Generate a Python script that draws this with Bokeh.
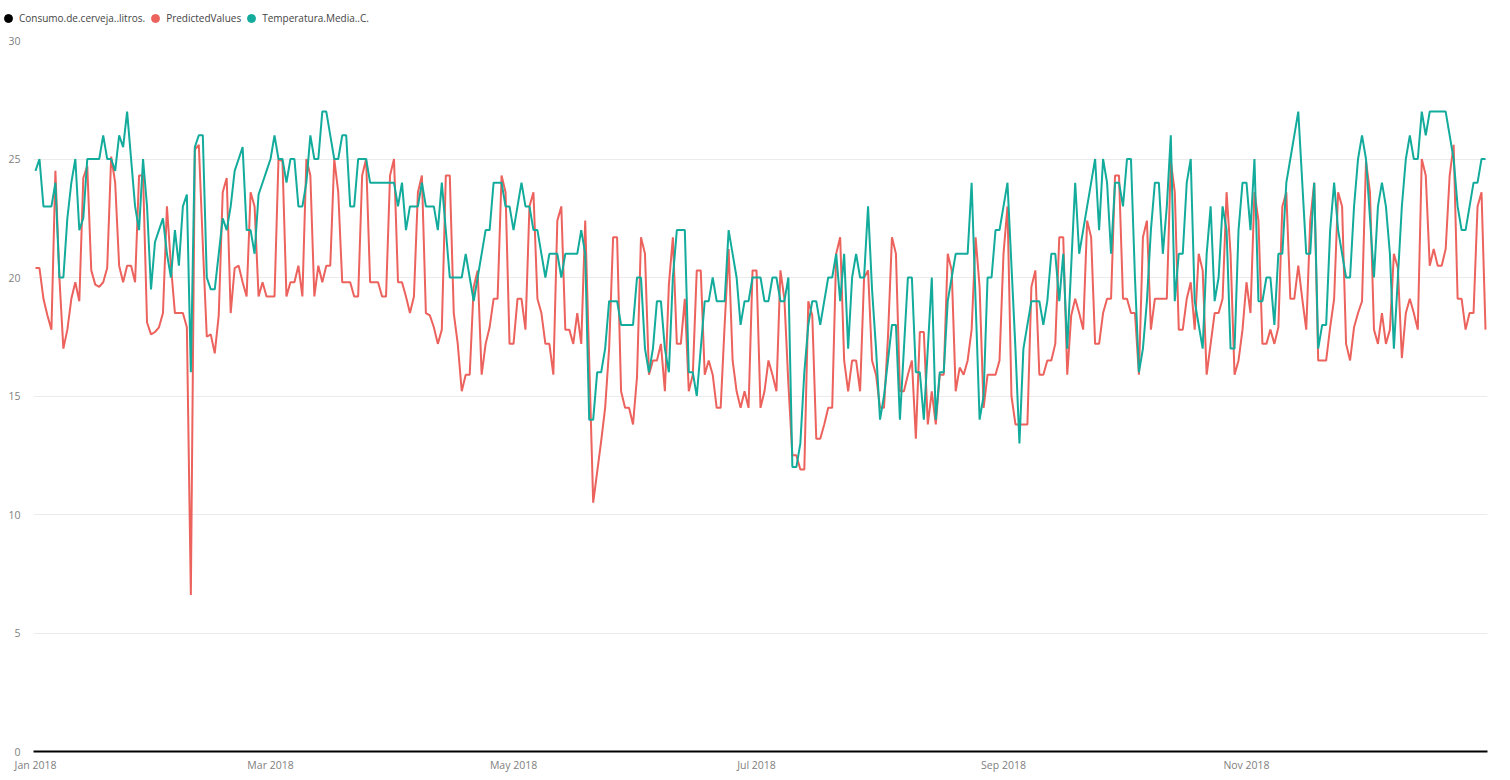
import pandas as pd
from bokeh.plotting import figure
from bokeh.models import (ColumnDataSource, Range1d, FixedTicker, DatetimeTickFormatter,
                          Legend, LegendItem)
from bokeh.embed import file_html
from bokeh.resources import INLINE

# ---------------- data ----------------
start_date = "2018-01-01"
series_names = ["Consumo.de.cerveja..litros.", "PredictedValues", "Temperatura.Media..C."]
series_colors = ["#000000", "#EC625D", "#13AB9C"]

consumo = []  # series present in legend, no visible values in range

predicted = [
    20.4, 20.4, 19.1, 18.4, 17.8, 24.5, 20.0, 17.0, 17.8, 19.1,
    19.8, 19.0, 24.2, 24.7, 20.3, 19.7, 19.6, 19.8, 20.4, 25.1,
    24.0, 20.5, 19.8, 20.5, 20.5, 19.8, 24.3, 24.3, 18.1, 17.6,
    17.7, 17.9, 18.5, 23.0, 20.5, 18.5, 18.5, 18.5, 17.9, 6.6,
    25.4, 25.6, 21.4, 17.5, 17.6, 16.8, 18.4, 23.6, 24.2, 18.5,
    20.4, 20.5, 19.8, 19.2, 23.6, 23.0, 19.2, 19.8, 19.2, 19.2,
    19.2, 25.0, 24.9, 19.2, 19.8, 19.8, 20.5, 19.2, 25.0, 24.3,
    19.2, 20.5, 19.8, 20.5, 20.5, 25.0, 23.6, 19.8, 19.8, 19.8,
    19.2, 19.2, 24.3, 25.0, 19.8, 19.8, 19.8, 19.2, 19.2, 24.3,
    25.0, 19.8, 19.8, 19.2, 18.5, 19.2, 23.6, 24.3, 18.5, 18.4,
    17.9, 17.2, 17.8, 24.3, 24.3, 18.5, 17.2, 15.2, 15.9, 15.9,
    19.6, 20.3, 15.9, 17.2, 17.9, 19.1, 19.1, 24.3, 23.6, 17.2,
    17.2, 19.1, 19.1, 17.8, 23.0, 23.6, 19.1, 18.5, 17.2, 17.2,
    15.9, 22.4, 23.0, 17.8, 17.8, 17.2, 18.5, 17.2, 22.4, 16.5,
    10.5, 11.8, 13.1, 14.5, 17.0, 21.7, 21.7, 15.2, 14.5, 14.5,
    13.8, 15.8, 21.7, 21.0, 15.9, 16.5, 16.5, 17.2, 15.2, 19.7,
    21.7, 17.2, 17.2, 19.1, 15.2, 15.9, 20.3, 20.3, 15.9, 16.5,
    15.9, 14.5, 14.5, 18.0, 21.2, 16.5, 15.2, 14.5, 15.2, 14.5,
    20.3, 20.3, 14.5, 15.2, 16.5, 15.9, 15.2, 20.3, 19.1, 15.5,
    12.5, 12.5, 11.9, 11.9, 19.0, 18.4, 13.2, 13.2, 13.8, 14.5,
    14.5, 21.0, 21.7, 16.5, 15.2, 16.5, 16.5, 15.2, 20.0, 20.3,
    16.5, 15.9, 14.5, 14.5, 17.5, 21.7, 21.0, 15.2, 15.2, 15.9,
    16.5, 13.2, 17.7, 17.7, 13.8, 15.2, 13.8, 15.9, 15.9, 21.0,
    20.3, 15.2, 16.2, 15.9, 16.5, 17.8, 21.7, 19.6, 14.5, 15.9,
    15.9, 15.9, 16.5, 21.0, 23.0, 15.0, 13.8, 13.8, 13.8, 13.8,
    19.6, 20.3, 15.9, 15.9, 16.5, 16.5, 17.2, 21.7, 21.7, 15.9,
    18.4, 19.1, 18.5, 17.8, 22.4, 21.7, 17.2, 17.2, 18.5, 19.1,
    19.1, 24.3, 24.3, 19.1, 19.1, 18.5, 18.5, 15.9, 21.7, 22.4,
    17.8, 19.1, 19.1, 19.1, 19.1, 24.9, 23.6, 17.8, 17.8, 19.1,
    19.8, 17.8, 21.0, 20.3, 15.9, 17.2, 18.5, 18.5, 19.1, 23.6,
    21.0, 15.9, 16.5, 17.8, 19.8, 18.5, 23.6, 22.4, 17.2, 17.2,
    17.8, 17.2, 17.9, 23.0, 23.6, 19.1, 19.1, 20.5, 19.1, 17.8,
    22.4, 24.0, 16.5, 16.5, 16.5, 17.9, 19.1, 23.6, 23.0, 17.2,
    16.5, 17.9, 18.5, 19.0, 24.9, 23.6, 17.8, 17.2, 18.5, 17.2,
    17.8, 21.0, 20.4, 16.6, 18.5, 19.1, 18.5, 17.8, 25.0, 24.3,
    20.5, 21.2, 20.5, 20.5, 21.2, 24.3, 25.6, 19.1, 19.1, 17.8,
    18.5, 18.5, 23.0, 23.6, 17.8,
]

temperatura = [
    24.5, 25, 23, 23, 23, 24, 20, 20, 22.5, 24,
    25, 22, 22.5, 25, 25, 25, 25, 26, 25, 25,
    24.5, 26, 25.5, 27, 25, 23, 22, 25, 23, 19.5,
    21.5, 22, 22.5, 21, 20, 22, 20.5, 23, 23.5, 16,
    25.5, 26, 26, 20, 19.5, 19.5, 21, 22.5, 22, 23,
    24.5, 25, 25.5, 22, 22, 21, 23.5, 24, 24.5, 25,
    26, 25, 25, 24, 25, 25, 23, 23, 24, 26,
    25, 25, 27, 27, 26, 25, 25, 26, 26, 23,
    23, 25, 25, 25, 24, 24, 24, 24, 24, 24,
    24, 23, 24, 22, 23, 23, 23, 24, 23, 23,
    23, 22, 24, 22, 20, 20, 20, 20, 21, 20,
    19, 20, 21, 22, 22, 24, 24, 24, 23, 23,
    22, 23, 24, 23, 23, 22, 22, 21, 20, 21,
    21, 21, 20, 21, 21, 21, 21, 22, 21, 14,
    14, 16, 16, 17, 19, 19, 19, 18, 18, 18,
    18, 20, 20, 17, 16, 17, 19, 19, 17, 16,
    20, 22, 22, 22, 16, 16, 15, 17, 19, 19,
    20, 19, 19, 19, 22, 21, 20, 18, 19, 19,
    20, 20, 20, 19, 19, 20, 20, 19, 19, 20,
    12, 12, 13, 16, 18, 19, 19, 18, 19, 20,
    20, 21, 19, 21, 17, 20, 21, 20, 20, 23,
    19.5, 17, 14, 15, 16.5, 18, 18, 14, 17, 20,
    20, 16, 16, 14, 17, 20, 14, 16, 16, 19,
    20, 21, 21, 21, 21, 24, 19, 14, 15, 20,
    20, 22, 22, 23, 24, 20.5, 17, 13, 17, 18,
    19, 19, 19, 18, 19, 21, 21, 19, 21, 17,
    20.5, 24, 21, 22, 23, 24, 25, 22, 25, 24,
    21, 24, 24, 23, 25, 25, 20, 16, 17, 19,
    22, 24, 24, 21, 23, 26, 19, 21, 21, 24,
    25, 19, 18, 17, 21, 23, 19, 20, 23, 22,
    17, 17, 22, 24, 24, 22, 25, 19, 19, 20,
    20, 18, 21, 21, 24, 25, 26, 27, 24, 21,
    21, 24, 17, 18, 18, 22, 24, 22, 21, 20,
    20, 23, 25, 26, 25, 22.5, 20, 23, 24, 23,
    21, 17, 20, 23, 25, 26, 25, 25, 27, 26,
    27, 27, 27, 27, 27, 26, 25, 23, 22, 22,
    23, 24, 24, 25, 25,
]

x_tick_dates = ["2018-01-01", "2018-03-01", "2018-05-01", "2018-07-01", "2018-09-01", "2018-11-01"]
y_ticks = [0, 5, 10, 15, 20, 25, 30]

# ---------------- layout constants ----------------
FONT = "Open Sans"
W = 1510
LEG_FIG_H = 32          # strip holding the legend
MAIN_H = 742
FRAME_TOP = 8           # inside main figure (page y = 40)
FRAME_BOTTOM = 721      # inside main figure (page y = 753)

dates = pd.date_range(start_date, periods=len(predicted), freq="D")
src = ColumnDataSource(dict(date=dates, pred=predicted, temp=temperatura))

half_day = pd.Timedelta(hours=12)
x_range = Range1d(start=(dates[0] - half_day).to_pydatetime(), end=(dates[-1] + half_day).to_pydatetime())
y_range = Range1d(0, 30)

# ---------------- main chart ----------------
p = figure(width=W, height=MAIN_H, x_axis_type="datetime", x_range=x_range,
           y_range=y_range, output_backend="svg", toolbar_location=None,
           min_border_left=33, min_border_right=23, min_border_top=FRAME_TOP,
           min_border_bottom=MAIN_H - FRAME_BOTTOM,
           background_fill_color="white", border_fill_color="white")
p.outline_line_color = None

p.yaxis.ticker = FixedTicker(ticks=y_ticks)
p.yaxis.axis_line_color = None
p.yaxis.major_tick_line_color = None
p.yaxis.minor_tick_line_color = None
p.yaxis.major_tick_in = 0
p.yaxis.major_tick_out = 0
p.yaxis.major_label_standoff = 13
p.yaxis.major_label_text_font = FONT
p.yaxis.major_label_text_font_size = "10.5px"
p.yaxis.major_label_text_color = "#808080"

tick_ms = [pd.Timestamp(t).value / 1e6 for t in x_tick_dates]
p.xaxis.ticker = FixedTicker(ticks=tick_ms)
p.xaxis.formatter = DatetimeTickFormatter(days="%b %Y", months="%b %Y", years="%b %Y")
p.xaxis.axis_line_color = "black"
p.xaxis.axis_line_width = 2
p.xaxis.major_tick_line_color = None
p.xaxis.minor_tick_line_color = None
p.xaxis.major_tick_in = 0
p.xaxis.major_tick_out = 0
p.xaxis.major_label_standoff = 6
p.xaxis.major_label_text_font = FONT
p.xaxis.major_label_text_font_size = "10.5px"
p.xaxis.major_label_text_color = "#808080"

p.xgrid.grid_line_color = None
p.ygrid.ticker = FixedTicker(ticks=y_ticks)
p.ygrid.grid_line_color = "#EBEBEB"
p.ygrid.grid_line_width = 1

p.line("date", "pred", source=src, color=series_colors[1], line_width=2)
p.line("date", "temp", source=src, color=series_colors[2], line_width=2)

# ---------------- legend strip (separate root, full-width frame) ----------------
lf = figure(width=W, height=LEG_FIG_H, x_axis_type="datetime",
            x_range=Range1d(start=x_range.start, end=x_range.end), y_range=Range1d(0, 30),
            output_backend="svg", toolbar_location=None,
            min_border=0, min_border_left=0, min_border_right=0,
            min_border_top=0, min_border_bottom=0,
            x_axis_location=None, y_axis_location=None,
            background_fill_color="white", border_fill_color="white")
lf.outline_line_color = None
lf.grid.visible = False

# zero-size markers: they only provide the circle swatches of the legend
swatches = [lf.scatter(x="date", y="pred", source=src, marker="circle", size=0, color=c)
            for c in series_colors]

LEG_H = 20
LEG_TOP = 8
legend = Legend(items=[LegendItem(label=n, renderers=[r]) for n, r in zip(series_names, swatches)],
                orientation="horizontal",
                location=(-2, LEG_FIG_H - (LEG_TOP + LEG_H)),
                label_text_font=FONT, label_text_font_size="10px", label_text_color="#444444",
                glyph_width=LEG_H, glyph_height=LEG_H, label_standoff=1, spacing=0,
                padding=0, margin=0, border_line_color=None, background_fill_alpha=0)
lf.add_layout(legend)

open("out.html", "w").write(file_html([lf, p], INLINE))
